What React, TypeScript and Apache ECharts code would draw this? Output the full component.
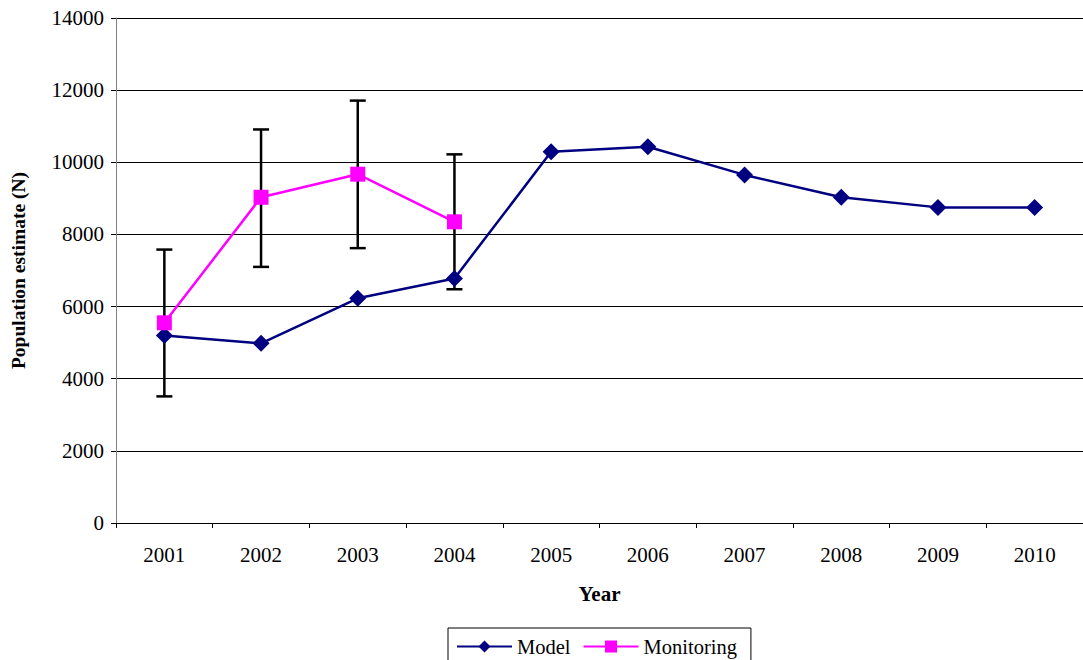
import React, { useEffect, useRef } from "react";
import * as echarts from "echarts";

const years = ["2001", "2002", "2003", "2004", "2005", "2006", "2007", "2008", "2009", "2010"];
const modelValues = [5200, 4980, 6230, 6780, 10290, 10430, 9650, 9030, 8750, 8750];
const monitoringValues = [5550, 9030, 9670, 8350, null, null, null, null, null, null];
const errorLow = [3510, 7100, 7620, 6480];
const errorHigh = [7580, 10910, 11710, 10220];

const FONT = "Liberation Serif";

export default function App() {
  const ref = useRef<HTMLDivElement>(null);
  useEffect(() => {
    if (!ref.current) return;
    const chart = echarts.init(ref.current, undefined, { renderer: "svg" });
    const errorData = errorLow.map((lo, i) => [i, lo, errorHigh[i]]);
    chart.setOption({
      animation: false,
      backgroundColor: "#ffffff",
      textStyle: { fontFamily: FONT, color: "#000" },
      grid: { left: 112, right: 0, top: 18, bottom: 137 },
      legend: {
        data: ["Model", "Monitoring"],
        left: 448,
        top: 628,
        borderColor: "#000",
        borderWidth: 1,
        padding: [8, 14, 8, 8],
        itemWidth: 55,
        itemHeight: 15,
        itemGap: 12,
        textStyle: { fontFamily: FONT, fontSize: 20.5, color: "#000" },
      },
      xAxis: {
        type: "category",
        data: years,
        boundaryGap: true,
        axisLine: { show: true, lineStyle: { color: "#000", width: 1 } },
        axisTick: { show: true, length: 5, alignWithLabel: false, lineStyle: { color: "#000" } },
        axisLabel: { fontFamily: FONT, fontSize: 21, color: "#000", margin: 21 },
        splitLine: { show: false },
        name: "Year",
        nameLocation: "middle",
        nameGap: 60,
        nameTextStyle: { fontFamily: FONT, fontSize: 21, fontWeight: "bold", color: "#000" },
      },
      yAxis: {
        type: "value",
        min: 0,
        max: 14000,
        interval: 2000,
        axisLine: { show: true, lineStyle: { color: "#808080", width: 1 } },
        axisTick: { show: true, length: 5, lineStyle: { color: "#000" } },
        axisLabel: {
          fontFamily: FONT,
          fontSize: 21,
          color: "#000",
          margin: 12,
          formatter: (v: number) => String(v),
        },
        splitLine: { show: true, lineStyle: { color: "#000", width: 1 } },
        name: "Population estimate (N)",
        nameLocation: "middle",
        nameGap: 88,
        nameRotate: 90,
        nameTextStyle: { fontFamily: FONT, fontSize: 19.5, fontWeight: "bold", color: "#000" },
      },
      series: [
        {
          name: "errors",
          type: "custom",
          data: errorData,
          z: 1,
          silent: true,
          renderItem: (params: any, api: any) => {
            const x = api.value(0);
            const lo = api.coord([x, api.value(1)]);
            const hi = api.coord([x, api.value(2)]);
            const cap = 8;
            const style = { stroke: "#000", lineWidth: 2.5 };
            return {
              type: "group",
              children: [
                { type: "line", shape: { x1: lo[0], y1: lo[1], x2: hi[0], y2: hi[1] }, style },
                { type: "line", shape: { x1: lo[0] - cap, y1: lo[1], x2: lo[0] + cap, y2: lo[1] }, style },
                { type: "line", shape: { x1: hi[0] - cap, y1: hi[1], x2: hi[0] + cap, y2: hi[1] }, style },
              ],
            };
          },
        },
        {
          name: "Model",
          type: "line",
          data: modelValues,
          z: 3,
          symbol: "diamond",
          symbolSize: 17,
          itemStyle: { color: "#000080" },
          lineStyle: { color: "#000080", width: 2.5 },
        },
        {
          name: "Monitoring",
          type: "line",
          data: monitoringValues,
          z: 4,
          connectNulls: false,
          symbol: "rect",
          symbolSize: 15,
          itemStyle: { color: "#FF00FF" },
          lineStyle: { color: "#FF00FF", width: 2.5 },
        },
      ],
    });
    return () => chart.dispose();
  }, []);
  return (
    <div
      ref={ref}
      style={{ position: "fixed", left: 0, top: 0, width: 1083, height: 660, background: "#fff" }}
    />
  );
}
